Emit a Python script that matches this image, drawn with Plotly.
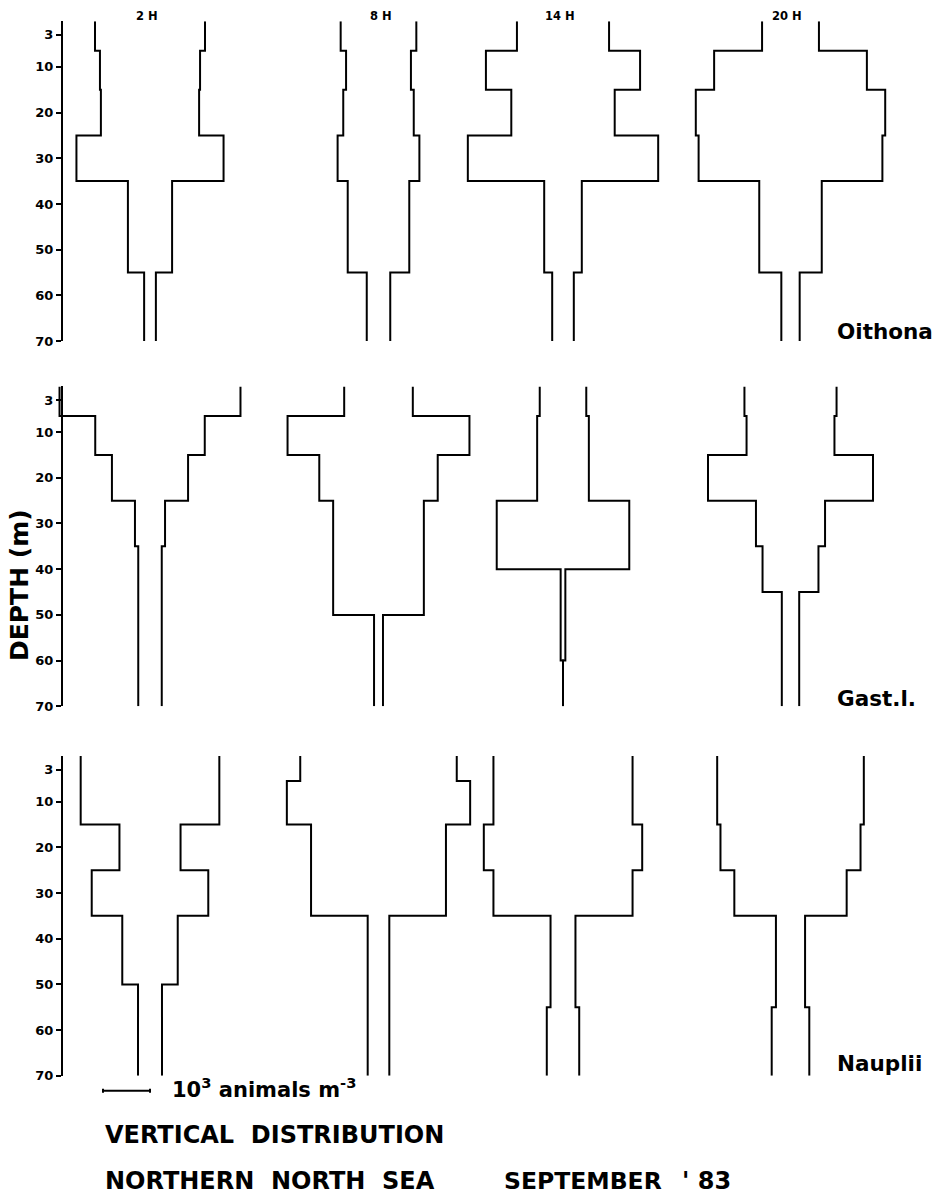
import plotly.graph_objects as go

# ---------------- data (abundance in 10^3 animals m^-3 per depth layer) ----------------
times = ["2 H", "8 H", "14 H", "20 H"]
species = ["Oithona", "Gast.l.", "Nauplii"]
depth_ticks = [3, 10, 20, 30, 40, 50, 60, 70]

# Oithona
oith_2h_bounds = [0, 6.5, 15, 25, 35, 55, 70]
oith_2h_vals = [2.34, 2.13, 2.09, 3.13, 0.94, 0.25]
oith_8h_bounds = [0, 6.5, 15, 25, 35, 55, 70]
oith_8h_vals = [1.61, 1.38, 1.50, 1.74, 1.31, 0.50]
oith_14h_bounds = [0, 6.5, 15, 25, 35, 55, 70]
oith_14h_vals = [1.96, 3.28, 2.20, 4.05, 0.80, 0.46]
oith_20h_bounds = [0, 6.5, 15, 25, 35, 55, 70]
oith_20h_vals = [1.21, 3.25, 4.03, 3.91, 1.33, 0.39]

# Gastropod larvae
gast_2h_bounds = [0, 6.5, 15, 25, 35, 70]
gast_2h_vals = [3.85, 2.33, 1.62, 0.64, 0.50]
gast_8h_bounds = [0, 6.5, 15, 25, 50, 70]
gast_8h_vals = [1.46, 3.87, 2.52, 1.93, 0.19]
gast_14h_bounds = [0, 6.5, 25, 40, 60, 70]
gast_14h_vals = [0.99, 1.10, 2.82, 0.10, 0.0]
gast_20h_bounds = [0, 6.5, 15, 25, 35, 45, 70]
gast_20h_vals = [1.96, 1.87, 3.51, 1.47, 1.19, 0.37]

# Nauplii
naup_2h_bounds = [0, 15, 25, 35, 50, 70]
naup_2h_vals = [2.95, 1.30, 2.48, 1.18, 0.51]
naup_8h_bounds = [0, 5.5, 15, 35, 70]
naup_8h_vals = [3.33, 3.90, 2.87, 0.46]
naup_14h_bounds = [0, 15, 25, 35, 55, 70]
naup_14h_vals = [2.96, 3.37, 2.96, 0.53, 0.69]
naup_20h_bounds = [0, 15, 25, 35, 55, 70]
naup_20h_vals = [3.12, 2.98, 2.39, 0.62, 0.80]

kites = [
    [(oith_2h_bounds, oith_2h_vals), (oith_8h_bounds, oith_8h_vals),
     (oith_14h_bounds, oith_14h_vals), (oith_20h_bounds, oith_20h_vals)],
    [(gast_2h_bounds, gast_2h_vals), (gast_8h_bounds, gast_8h_vals),
     (gast_14h_bounds, gast_14h_vals), (gast_20h_bounds, gast_20h_vals)],
    [(naup_2h_bounds, naup_2h_vals), (naup_8h_bounds, naup_8h_vals),
     (naup_14h_bounds, naup_14h_vals), (naup_20h_bounds, naup_20h_vals)],
]

# ---------------- layout geometry ----------------
W, H = 945, 1202
PX_PER_UNIT = 47.0             # pixels per 10^3 animals m^-3
col_centers_px = [150, 378.5, 563, 790.5]
row_top_px = [21.3, 389, 761]
PX_PER_M = 4.6
DEPTH_MAX = 70
AXIS_X_PX = 62

FONT = "DejaVu Sans, Verdana, sans-serif"


def bold(size):
    return dict(family=FONT, size=size, color="black", weight="bold")


fig = go.Figure()

yaxis_names = ["y", "y2", "y3"]
layout_axes = {}
for r in range(3):
    top = row_top_px[r]
    bot = top + PX_PER_M * DEPTH_MAX
    dom = [(H - bot) / H, (H - top) / H]
    key = "yaxis" if r == 0 else f"yaxis{r+1}"
    layout_axes[key] = dict(
        domain=dom, range=[DEPTH_MAX, 0], anchor="free", position=AXIS_X_PX / W,
        showline=True, linecolor="black", linewidth=2,
        ticks="outside", ticklen=5, tickwidth=2, tickcolor="black",
        tickvals=depth_ticks, ticktext=[str(t) for t in depth_ticks],
        tickfont=bold(13),
        showgrid=False, zeroline=False, fixedrange=True,
    )

    for c in range(4):
        bounds, vals = kites[r][c]
        cx = col_centers_px[c] / PX_PER_UNIT
        for side in (-1, 1):
            xs, ys = [], []
            for i, v in enumerate(vals):
                x = cx + side * v / 2.0
                xs += [x, x]
                ys += [bounds[i], bounds[i + 1]]
            fig.add_trace(go.Scatter(
                x=xs, y=ys, mode="lines", xaxis="x", yaxis=yaxis_names[r],
                line=dict(color="black", width=2), hoverinfo="skip",
                showlegend=False))

fig.update_layout(
    width=W, height=H, margin=dict(l=0, r=0, t=0, b=0),
    paper_bgcolor="white", plot_bgcolor="white", showlegend=False,
    xaxis=dict(domain=[0, 1], range=[0, W / PX_PER_UNIT], visible=False, fixedrange=True),
    **layout_axes,
)

ann = []


def add_text(x_px, y_px, text, size, xanchor="left", angle=0):
    ann.append(dict(x=x_px / W, y=1 - y_px / H, text=text, showarrow=False,
                    xref="paper", yref="paper", xanchor=xanchor, yanchor="middle",
                    textangle=angle, font=bold(size)))


# column headers
header_x = [147, 381, 560, 787]
for t, hx in zip(times, header_x):
    add_text(hx, 16, t, 11.5, xanchor="center")
# species labels
species_y = [334, 703, 1071]
for s, sy in zip(species, species_y):
    add_text(835, sy, s, 21.5)
# depth label
add_text(19, 589, "DEPTH (m)", 25, xanchor="center", angle=-90)
# scale bar label
add_text(170, 1095, "10<sup>3</sup> animals m<sup>-3</sup>", 21)
# bottom titles
add_text(103, 1143, "VERTICAL  DISTRIBUTION", 24)
add_text(103, 1189, "NORTHERN  NORTH  SEA", 24)
add_text(502, 1189, "SEPTEMBER", 23.5)
add_text(680, 1189, "' 83", 24)
fig.update_layout(annotations=ann)

# scale bar: 1 unit = 10^3 animals m^-3
sb_x0 = 103 / PX_PER_UNIT
sb_y = 1 - 1098 / H
shapes = [
    dict(type="line", xref="x", yref="paper", x0=sb_x0, x1=sb_x0 + 1, y0=sb_y, y1=sb_y,
         line=dict(color="black", width=2)),
    dict(type="line", xref="x", yref="paper", x0=sb_x0, x1=sb_x0, y0=sb_y - 2 / H, y1=sb_y + 2 / H,
         line=dict(color="black", width=2)),
    dict(type="line", xref="x", yref="paper", x0=sb_x0 + 1, x1=sb_x0 + 1, y0=sb_y - 2 / H, y1=sb_y + 2 / H,
         line=dict(color="black", width=2)),
]
fig.update_layout(shapes=shapes)

fig.write_html("out.html")
